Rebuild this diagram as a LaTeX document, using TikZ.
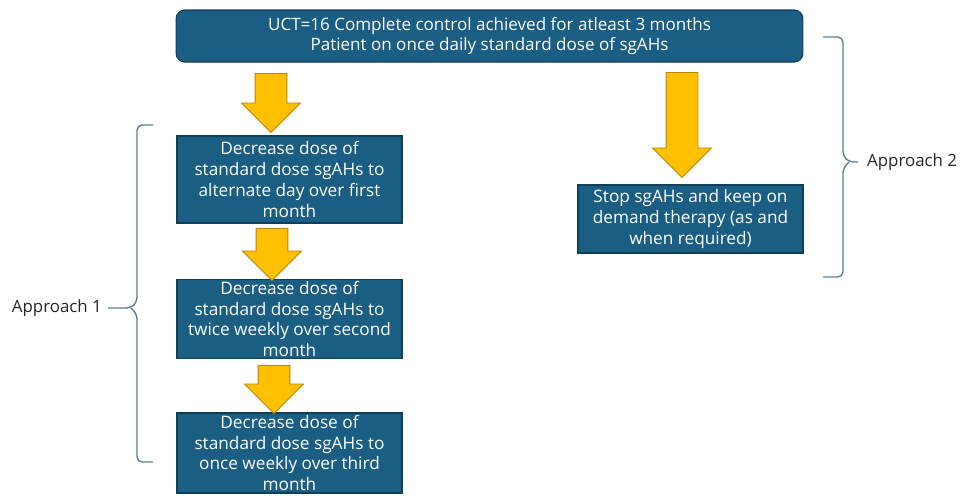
\documentclass[tikz,border=0pt]{standalone}
\usepackage{fontspec}
\setmainfont{Open Sans}
\usetikzlibrary{shapes.arrows, positioning}
\definecolor{boxblue}{HTML}{1B5E84}
\definecolor{boxedge}{HTML}{123F58}
\definecolor{arrowgold}{HTML}{FFC000}
\definecolor{arrowedge}{HTML}{B8860B}
\definecolor{bracegrey}{HTML}{5B7F93}
\tikzset{
    stepbox/.style={rectangle, draw=boxedge, fill=boxblue, text=white, line width=0.6pt,
        minimum width=4.5cm, inner sep=1pt, align=center, font=\fontsize{9.8}{11.9}\selectfont},
    topbox/.style={stepbox, rounded corners=5pt, minimum width=12.54cm, minimum height=1.04cm,
        font=\fontsize{9.7}{11.4}\selectfont},
    blockarrow/.style={single arrow, draw=arrowedge, fill=arrowgold, line width=0.5pt, rotate=-90,
        anchor=tail, inner xsep=0pt, inner ysep=0.31cm, single arrow head extend=0.27cm,
        single arrow head indent=0pt},
    bracket/.style={draw=bracegrey, line width=0.8pt, rounded corners=3pt},
    sidelabel/.style={font=\fontsize{9.6}{11}\selectfont, text=black!85}
}
\begin{document}
\begin{tikzpicture}[x=0.02cm, y=-0.02cm]
    \useasboundingbox (0, 0) rectangle (961, 495);
    % top box
    \node[topbox] (top) at (489.5, 36) {UCT=16 Complete control achieved for atleast 3 months\\
        Patient on once daily standard dose of sgAHs};
    % approach 1
    \node[stepbox, minimum height=1.74cm] (dec1) at (289.5, 179.5)
        {Decrease dose of\\standard dose sgAHs to\\alternate day over first\\month};
    \node[stepbox, minimum height=1.56cm] (dec2) at (289.5, 319)
        {Decrease dose of\\standard dose sgAHs to\\twice weekly over second\\month};
    \node[stepbox, minimum height=1.6cm] (dec3) at (289.5, 453)
        {Decrease dose of\\standard dose sgAHs to\\once weekly over third\\month};
    % approach 2
    \node[stepbox, minimum height=1.36cm] (stop) at (690.5, 219)
        {Stop sgAHs and keep on\\demand therapy (as and\\when required)};
    % arrows
    \node[blockarrow, minimum height=1.18cm] (arr1) at (271, 73) {};
    \node[blockarrow, minimum height=1.04cm] (arr2) at (272, 228) {};
    \node[blockarrow, minimum height=0.96cm] (arr3) at (274, 365) {};
    \node[blockarrow, minimum height=2.1cm] (arr4) at (682, 72) {};
    % braces
    \coordinate (b1top) at (153, 125);
    \coordinate (b1bot) at (153, 462);
    \coordinate (b1tip) at (108, 308);
    \draw[bracket] (b1top) -- (137, 125) -- (137, 302) -- (131, 308) -- (b1tip);
    \draw[bracket] (b1bot) -- (137, 462) -- (137, 314) -- (131, 308);
    \node[sidelabel, anchor=east] (app1) at (b1tip) {Approach 1};
    \coordinate (b2top) at (823, 37);
    \coordinate (b2bot) at (823, 277);
    \coordinate (b2tip) at (858, 162);
    \draw[bracket] (b2top) -- (843, 37) -- (843, 156) -- (849, 162) -- (b2tip);
    \draw[bracket] (b2bot) -- (843, 277) -- (843, 168) -- (849, 162);
    \node[sidelabel, anchor=west] (app2) at (861, 162) {Approach 2};
\end{tikzpicture}
\end{document}
